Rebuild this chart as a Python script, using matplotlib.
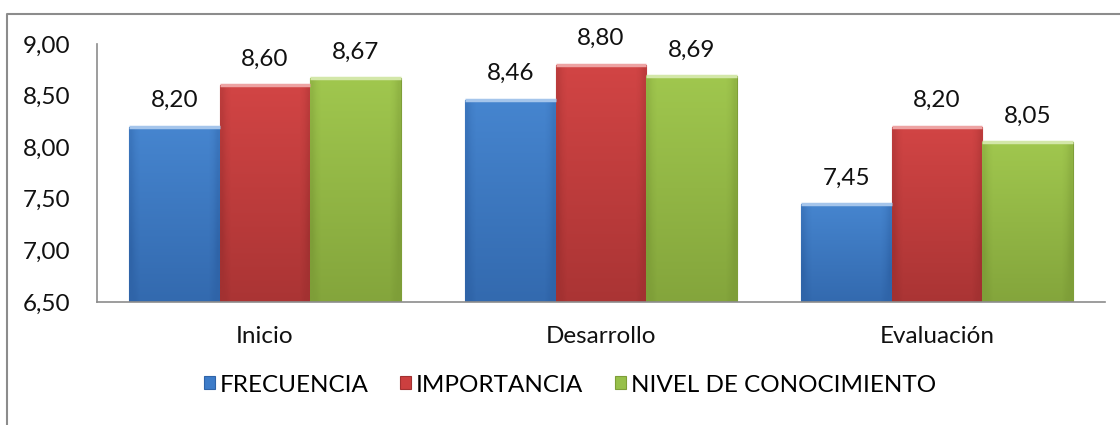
import numpy as np
import matplotlib
matplotlib.use("Agg")
import matplotlib.pyplot as plt
from matplotlib.ticker import FuncFormatter
from matplotlib.patches import Patch
from matplotlib.lines import Line2D

categories = ["Inicio", "Desarrollo", "Evaluación"]
series_names = ["FRECUENCIA", "IMPORTANCIA", "NIVEL DE CONOCIMIENTO"]
frecuencia = [8.20, 8.46, 7.45]
importancia = [8.60, 8.80, 8.20]
conocimiento = [8.67, 8.69, 8.05]

# (light, dark) per series, for the excel-like shading
colors = [("#4A8BD6", "#2F64A8"), ("#DA4848", "#A23131"), ("#A6CE52", "#7E9E38")]
base = ["#3D7CC9", "#CC3F3F", "#97C04A"]

plt.rcParams['font.family'] = ['Lato', 'DejaVu Sans']
fs = 17.5

fig = plt.figure(figsize=(11.2, 4.25), dpi=100)
ax = fig.add_axes([97 / 1120, 1 - 302 / 425, (1105 - 97) / 1120, (302 - 44) / 425])

ymin, ymax = 6.5, 9.0
x = np.arange(len(categories))
w = 0.269
data = [frecuencia, importancia, conocimiento]

for i, vals in enumerate(data):
    bars = ax.bar(x + (i - 1) * w, vals, w, color=base[i], edgecolor=colors[i][1],
                  linewidth=0.8, zorder=2)
    light = np.array(matplotlib.colors.to_rgb(colors[i][0]))
    dark = np.array(matplotlib.colors.to_rgb(colors[i][1]))
    for b, v in zip(bars, vals):
        # vertical gradient plus a soft bevel near the edges
        ny, nx = 80, 20
        t = np.linspace(0, 1, ny)[:, None]
        s = np.linspace(0, 1, nx)[None, :]
        mix = 0.15 + 0.7 * t
        edge = np.clip(1 - np.minimum(s, 1 - s) / 0.08, 0, 1) * 0.35
        m = np.clip(mix + edge, 0, 1)
        img = light[None, None, :] * (1 - m[..., None]) + dark[None, None, :] * m[..., None]
        bx = b.get_x()
        im = ax.imshow(img, extent=[bx, bx + b.get_width(), ymin, v], aspect='auto',
                       origin='upper', zorder=2.5, interpolation='bilinear')
        im.set_clip_path(b)
        # light top lip of the bevel
        ax.plot([bx, bx + b.get_width()], [v, v], color=light * 0.5 + 0.5, lw=2.5,
                solid_capstyle='butt', zorder=2.6)
        ax.annotate(f"{v:.2f}".replace(".", ","), (bx + b.get_width() / 2, v),
                    xytext=(0, 26), textcoords='offset pixels', ha='center', va='center',
                    fontsize=fs, color='#111111')

ax.set_xlim(-0.5, 2.5)
ax.set_ylim(ymin, ymax)
ax.set_yticks([6.5, 7.0, 7.5, 8.0, 8.5, 9.0])
ax.yaxis.set_major_formatter(FuncFormatter(lambda v, p: f"{v:.2f}".replace(".", ",")))
ax.set_xticks(x)
ax.set_xticklabels(categories)
ax.tick_params(axis='both', length=0, labelsize=fs, colors='#111111')
ax.tick_params(axis='y', pad=19)
ax.tick_params(axis='x', pad=17)
for sp in ['top', 'right']:
    ax.spines[sp].set_visible(False)
for sp in ['left', 'bottom']:
    ax.spines[sp].set_color('#8c8c8c')
    ax.spines[sp].set_linewidth(1.2)

handles = [Patch(facecolor=base[i], edgecolor=colors[i][1], linewidth=0.8) for i in range(3)]
fig.legend(handles, series_names, loc='center', bbox_to_anchor=(570 / 1120, 1 - 385 / 425),
           ncol=3, frameon=False, fontsize=fs, handlelength=0.45, handleheight=0.45,
           handletextpad=0.2, columnspacing=1.3)

# outer chart border (top and left visible)
fig.add_artist(Line2D([7 / 1120, 7 / 1120, 1.0], [0.0, 1 - 14 / 425, 1 - 14 / 425],
                      transform=fig.transFigure, color='#8c8c8c', linewidth=1.5))

plt.savefig("out.png", dpi=100)
